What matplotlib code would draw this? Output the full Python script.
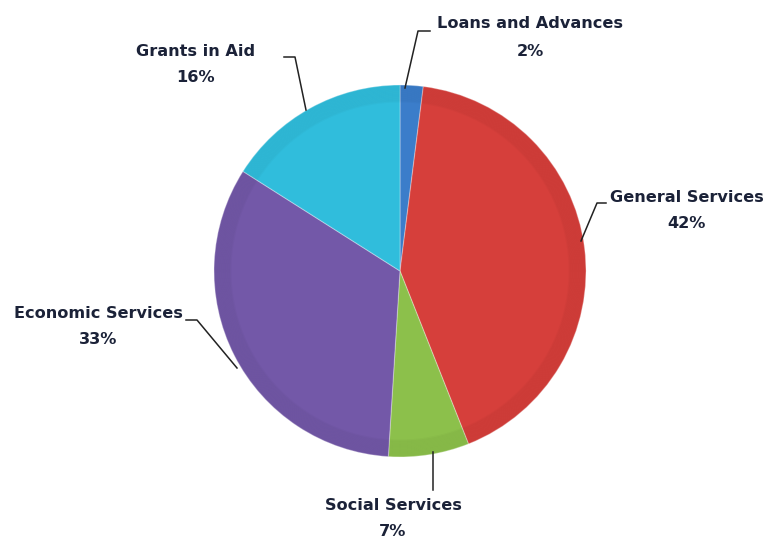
import matplotlib
matplotlib.use("Agg")
import matplotlib.pyplot as plt
from matplotlib.patches import Circle

categories = ["Loans and Advances", "General Services", "Social Services",
              "Economic Services", "Grants in Aid"]
values = [2, 42, 7, 33, 16]
colors = ["#3B7DCA", "#D63F3B", "#8CC04B", "#7358A8", "#30BDDC"]

W, H = 766, 538
fig = plt.figure(figsize=(W / 100, H / 100), dpi=100)
ax = fig.add_axes([0, 0, 1, 1])

cx, cy, r = 400, H - 271, 186
wedges, _ = ax.pie(values, colors=colors, startangle=90, counterclock=False,
                   center=(cx, cy), radius=r, frame=True,
                   wedgeprops=dict(edgecolor=(1, 1, 1, 0.3), linewidth=0.8))
# smooth subtle darkening toward the rim for a bevelled look
for k in range(14):
    ax.add_patch(Circle((cx, cy), r - 0.8 - k * 1.2, fill=False,
                        edgecolor=(0, 0, 0, 0.018), lw=1.6))
ax.set_xlim(0, W)
ax.set_ylim(0, H)
ax.set_aspect("equal")
ax.axis("off")

txt = "#1B2238"
# label layout: (text center x, name y, pct y, leader path in px)
layout = [
    (530, 24, 52, [(430, 31), (418, 31), (405, 88)]),
    (687, 197, 224, [(606, 203), (597, 203), (581, 241)]),
    (393, 505, 531, [(433, 490), (433, 452)]),
    (98, 314, 340, [(186, 320), (197, 320), (237, 368)]),
    (196, 51, 77, [(284, 57), (295, 57), (306, 110)]),
]
for cat, val, (tx, ny, py, path) in zip(categories, values, layout):
    ax.text(tx, H - ny, cat, ha="center", va="center", fontsize=11.6,
            fontweight="bold", color=txt, family="DejaVu Sans")
    ax.text(tx, H - py, f"{val}%", ha="center", va="center", fontsize=11.6,
            fontweight="bold", color=txt, family="DejaVu Sans")
    xs = [p[0] for p in path]
    ys = [H - p[1] for p in path]
    ax.plot(xs, ys, color="#222222", lw=1.1)

fig.savefig("out.png", dpi=100, facecolor="white")
